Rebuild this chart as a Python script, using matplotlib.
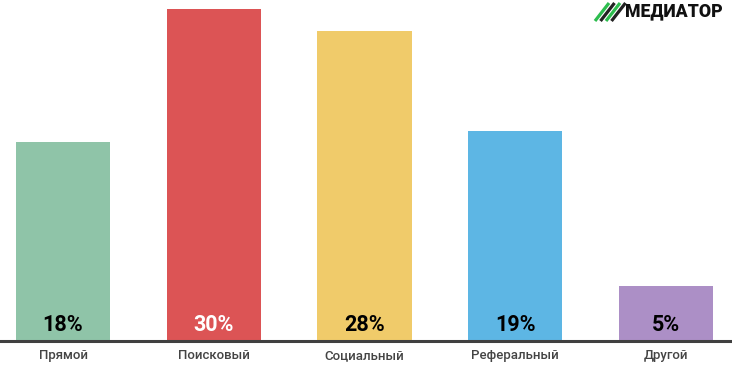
import matplotlib.pyplot as plt
from matplotlib.lines import Line2D

categories = ['Прямой', 'Поисковый', 'Социальный', 'Реферальный', 'Другой']
values = [18, 30, 28, 19, 5]
labels = ['18%', '30%', '28%', '19%', '5%']
colors = ['#8fc4a8', '#dc5455', '#f0cb6a', '#5db6e4', '#ac8fc6']
label_colors = ['black', 'white', 'black', 'black', 'black']

fig = plt.figure(figsize=(7.32, 3.76), dpi=100)
ax = fig.add_axes([0, 35 / 376, 1, 341 / 376])

x = list(range(len(categories)))
ax.bar(x, values, width=0.625, color=colors)
ax.set_xlim(-0.418, 4.438)
ax.set_ylim(0, 30.81)

for i, v in enumerate(values):
    ax.text(i, 0.42, labels[i], ha='center', va='bottom', fontsize=15.5,
            fontweight='bold', family='Roboto', color=label_colors[i])

ax.set_xticks(x)
ax.set_xticklabels(categories, fontsize=9.5, family='Roboto', color='#444444',
                   fontweight='medium')
ax.tick_params(axis='x', length=0, pad=6)
ax.set_yticks([])
for s in ['top', 'right', 'left']:
    ax.spines[s].set_visible(False)
ax.spines['bottom'].set_color('#404040')
ax.spines['bottom'].set_linewidth(2.2)

# логотип
W, H = 732, 376
stripe_cols = ['#2dbd4e', '#222222', '#2dbd4e', '#222222']
for k, c in enumerate(stripe_cols):
    x0 = 595 + k * 5.5
    fig.add_artist(Line2D([x0 / W, (x0 + 14) / W], [1 - 21 / H, 1 - 3 / H],
                          color=c, linewidth=2.3, solid_capstyle='butt'))
fig.text(625 / W, 1 - 11.5 / H, 'МЕДИАТОР', ha='left', va='center',
         fontsize=12.7, fontweight='black', family='Roboto', color='#111111')

fig.savefig('out.png', dpi=100)
